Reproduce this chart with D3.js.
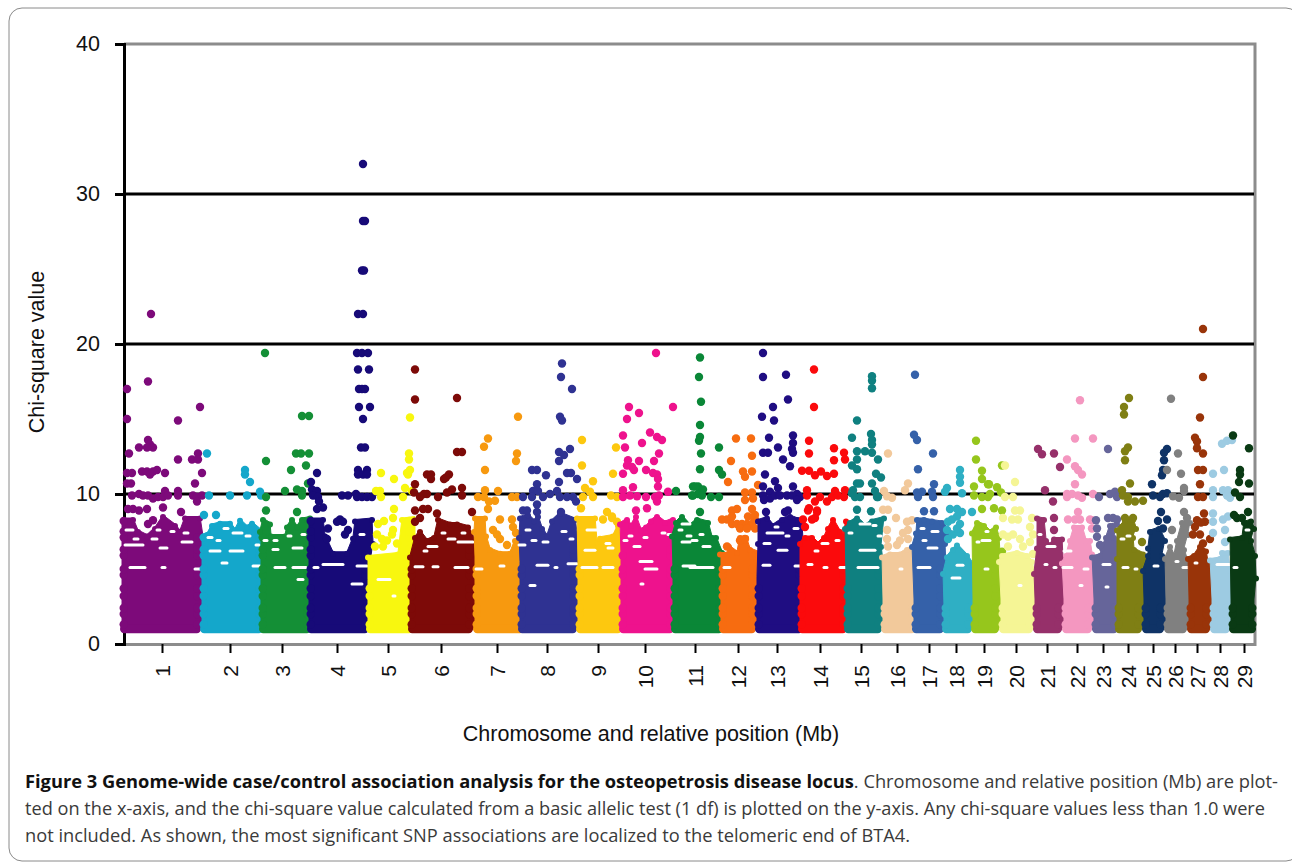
<!DOCTYPE html>
<html>
<head>
<meta charset="utf-8">
<script src="https://cdn.jsdelivr.net/npm/d3@7"></script>
<style>
  html, body { margin: 0; padding: 0; background: #fff; }
  svg { display: block; }
  .tick-txt { font-family: "Liberation Sans", Arial, sans-serif; fill: #111; }
  .caption { font-family: "Open Sans", "Noto Sans", sans-serif; font-size: 18px; fill: #3a3a3a; }
  .caption .b { font-weight: 700; fill: #111; }
</style>
</head>
<body>
<svg id="chart" width="1292" height="863"></svg>
<script>
// Manhattan plot, values. Positions are relative genome units.
const chromNames = d3.range(1, 30).map(String);
const chromColors = ['#7d0a7a','#14a7cb','#148f36','#170a78','#f8f70f','#7d0a08','#f7990f','#2f3292','#fdc80f','#ee128d',
  '#0a8737','#f76c10','#1f0d82','#fb0a0c','#0f8080','#f2c99b','#3561a9','#2fafc4','#96c61c','#f5f595',
  '#96306a','#f497c0','#66659a','#7f7f14','#0f3366','#808080','#993409','#9dcbe2','#0a3a14'];
const chromTicks = [38,106,158,213,264,317,373,423,474,521,571,614,653,696,737,773,805,832,860,892,923,953,979,1004,1029,1051,1073,1096,1120];
const yTicks = [0,10,20,30,40];
// chi levels where the SNPs stack up along the sides of each block
const bandLevels = [1.3,2.0,2.4,3.2,3.7,4.6,5.0,5.9,6.3,7.1,7.5,8.2];

// solid lower block of each chromosome: top edge [pos, chi]
const chr1Body = [[-4,8.4],[9,8.4],[14,7.6],[23,7.3],[31,7.8],[39,8.6],[51,8.0],[56,7.6],[61,8.5],[76,8.5],[77,7.2]];
const chr2Body = [[76,7.3],[83,7.4],[88,8.0],[96,8.15],[106,8.15],[111,7.7],[116,8.35],[123,7.9],[128,8.15],[138,7.6],[139,7.3]];
const chr3Body = [[135,7.4],[136,7.6],[139,8.4],[146,8.1],[147,7.3],[161,7.3],[163,7.9],[168,8.4],[173,7.9],[178,8.4],[186,8.5],[187,7.3]];
const chr4Body = [[183,8.4],[199,8.4],[201,7.3],[209,6.15],[223,6.15],[229,7.15],[231,8.3],[248,8.4],[249,6.8],[245,5.9]];
const chr5Body = [[242,4.3],[244,5.9],[274,6.1],[278,8.4],[289,8.5]];
const chr6Body = [[284,5.5],[286,5.9],[291,7.2],[296,7.6],[303,7.0],[310,7.2],[314,8.4],[326,8.1],[333,8.1],[344,7.9],[349,7.0]];
const chr7Body = [[349,5.8],[350,7.6],[351,8.5],[361,8.5],[362,7.3],[366,6.4],[376,6.15],[386,6.15],[391,7.0],[396,7.15],[400,5.6]];
const chr8Body = [[394,5.5],[395,7.2],[396,8.5],[404,8.7],[410,8.3],[414,8.6],[418,7.8],[423,7.3],[428,8.3],[436,8.8],[451,8.4],[453,6.6]];
const chr9Body = [[452,5.4],[453,8.5],[471,8.5],[473,6.9],[476,7.15],[489,7.3],[494,8.0],[497,7.2],[498,5.6]];
const chr10Body = [[495,6],[496,8.1],[503,8.4],[507,8.0],[512,8.6],[517,7.7],[522,7.9],[527,8.3],[533,8.6],[541,8.2],[549,8.4],[550,6.5]];
const chr11Body = [[547,5],[548,7.3],[552,8.2],[558,8.6],[566,8.0],[573,8.4],[584,8.2],[588,7.2],[592,7.2],[598,6.2],[599,5.5]];
const chr12Body = [[595,5.8],[596,6.1],[603,6.1],[605,6.6],[613,6.2],[616,7.2],[622,7.2],[626,6.4],[632,6.2]];
const chr13Body = [[631,4.5],[634,6.8],[634,8.3],[643,8.5],[649,8.0],[658,8.4],[666,8.6],[674,8.4],[678,8.0],[679,5]];
const chr14Body = [[674,4.5],[676,6.8],[681,7.2],[688,7.2],[694,6.8],[700,7.2],[704,7.8],[709,8.4],[716,7.6],[719,7.3],[722,8.3],[726,7.0],[723,5]];
const chr15Body = [[720,4.5],[721,7.8],[726,8.2],[733,8.5],[741,8.0],[748,8.3],[760,8.5],[757,6.6],[758,5]];
const chr16Body = [[757,3],[758,5.9],[766,6.1],[776,6.1],[783,6.4],[790,6.6],[793,5.5],[792,3]];
const chr17Body = [[788,3],[788,6.6],[792,7.5],[793,8.4],[800,8.4],[808,8.3],[818,8.2],[825,7.6],[821,6.8],[820,5]];
const chr18Body = [[818,2.5],[819,4.8],[823,5.9],[829,6.4],[833,6.7],[843,6],[849,5.4],[848,3]];
const chr19Body = [[847,3],[848,7.5],[853,8.2],[860,8],[866,7.6],[872,7.9],[875,7.2],[875,5]];
const chr20Body = [[875,3],[875,5.6],[878,6],[893,6.2],[903,6],[908,5.6],[911,4.6],[909,2]];
const chr21Body = [[909,3],[910,4.8],[913,6.5],[913,8.5],[920,8.4],[922,7],[926,6.7],[930,7.1],[938,7.1],[939,5.8],[938,3]];
const chr22Body = [[938,3],[938,5.5],[942,6],[946,7],[950,7.9],[958,7.9],[962,7],[966,7],[968,6.1],[968,3]];
const chr23Body = [[968,3],[968,5.9],[976,6],[978,6.5],[982,7.2],[986,8.0],[993,8.1],[990,7.2],[994,6.8],[996,6.1],[994,3]];
const chr24Body = [[991,3],[993,5.8],[993,7.7],[1001,8.3],[1009,8.4],[1012,7.8],[1009,7.2],[1010,6.4],[1019,6.1],[1024,5.6],[1021,4.5],[1018,3]];
const chr25Body = [[1018,3],[1019,5],[1024,6],[1024,6.5],[1026,7.6],[1035,7.8],[1041,7],[1038,6],[1041,5.5],[1040,3]];
const chr26Body = [[1040,3],[1041,5.8],[1046,6.6],[1050,6],[1053,7],[1058,8.2],[1066,8.2],[1064,7.4],[1060,6.4],[1064,5.5],[1063,3]];
const chr27Body = [[1063,3],[1064,5.8],[1070,6],[1076,6.6],[1082,6.3],[1084,5.5],[1088,5],[1086,3]];
const chr28Body = [[1086,3],[1086,5.7],[1096,5.8],[1098,6.2],[1104,6.2],[1106,5],[1106,3]];
const chr29Body = [[1105,3],[1106,7.1],[1118,7.2],[1120,8.2],[1127,8.3],[1130,7.8],[1127,7],[1131,6],[1132,4.5],[1132,3]];

// empty stretches inside the block: [pos from, pos to, chi]
const chr1Gaps = [[1,19,6.6],[36,43,6.4],[58,68,6.8],[6,21,5.1],[38,41,5.1],[71,78,5.0],[2,9,7.6],[33,36,7.6],[47,50,7.5],[60,64,7.4],[10,14,7.0],[28,33,7.0]];
const chr2Gaps = [[86,96,6.2],[106,119,6.2],[109,118,7.4],[93,96,6.9],[98,103,5.4],[129,136,5.2],[84,88,7.1],[100,104,7.7],[122,126,7.2],[132,135,6.6]];
const chr3Gaps = [[149,154,6.3],[169,178,6.4],[151,161,5.1],[169,182,5.1],[174,179,4.3],[164,167,7.2],[150,153,6.9],[178,181,7.3],[140,143,6.9]];
const chr4Gaps = [[199,219,5.3],[228,238,4.0],[233,243,5.2],[190,194,5.1],[236,240,7.3]];
const chr5Gaps = [[254,266,4.3],[269,271,3.2]];
const chr6Gaps = [[304,313,6.5],[324,331,7.0],[334,349,6.8],[291,299,5.15],[309,314,5.15],[331,344,5.1],[300,303,6.2],[318,321,7.4],[338,341,7.4]];
const chr7Gaps = [[352,358,5.0],[376,380,5.2]];
const chr8Gaps = [[413,424,5.25],[444,453,5.35],[431,433,5.1],[395,401,6.6],[419,424,6.8],[406,411,3.9],[402,406,7.6],[438,442,7.5],[408,412,6.9],[446,449,7.0]];
const chr9Gaps = [[461,471,6.25],[458,473,5.1],[479,489,5.1],[463,473,7.6],[484,489,6.4],[482,486,6.7]];
const chr10Gaps = [[516,528,5.5],[521,533,5.0],[517,519,4.0],[510,516,6.5],[505,508,7.2],[520,523,7.1],[538,541,7.4],[500,503,6.9],[544,547,7.3]];
const chr11Gaps = [[568,573,6.9],[558,566,8],[558,566,6.8],[559,571,5.2],[566,589,5.1],[579,586,6.5],[555,558,7.6],[576,579,7.3],[563,567,7.2]];
const chr12Gaps = [[600,606,5.1]];
const chr13Gaps = [[643,659,7.4],[639,646,5.25],[671,678,5.2],[654,663,6.25],[640,646,6.7],[662,665,7.2],[651,654,7.8],[670,674,7.7]];
const chr14Gaps = [[700,703,5.1],[716,723,5.1],[698,704,6.7],[684,688,5.3],[712,715,6.9],[691,694,6.2]];
const chr15Gaps = [[736,746,8.0],[736,751,6.25],[734,754,5.1],[749,752,7.9],[725,728,7.4],[754,757,7.2]];
const chr16Gaps = [[776,778,5.0]];
const chr17Gaps = [[794,806,5.1],[804,813,6.4],[808,814,7.5],[797,800,7.7],[799,802,6.9]];
const chr18Gaps = [[828,836,4.4],[833,839,5.25]];
const chr19Gaps = [[858,866,6.9],[861,864,5.0],[862,864,7.5],[853,855,6.8]];
const chr20Gaps = [[895,897,3.9]];
const chr21Gaps = [[923,931,6.5],[921,923,5.3],[930,932,5.1],[915,917,7.3]];
const chr22Gaps = [[939,948,5.1],[960,964,5],[956,958,3.9],[940,947,6.2]];
const chr23Gaps = [[979,986,5.3],[982,984,3.8]];
const chr24Gaps = [[999,1004,5.1],[1011,1013,5],[1022,1024,3.8],[1003,1006,7.2],[997,1000,7.0]];
const chr25Gaps = [[1030,1034,5.2]];
const chr26Gaps = [[1052,1054,5.5],[1059,1066,5.1]];
const chr27Gaps = [[1071,1073,5.4]];
const chr28Gaps = [[1093,1106,5.3]];
const chr29Gaps = [[1110,1113,5.1],[1122,1125,7.6]];

// separate SNPs above the block: [pos, chi]
const chr1Dots = [[27,22],[3,17],[24,17.5],[76,15.8],[3,15],[54,14.9],[24,13.6],[26,13.3],[15,13.1],[29,13.1],[23,13.1],[5,12.7],[74,12.7],[54,12.3],[68,12.3],[74,12.3],
  [3,11.4],[8,11.4],[18,11.5],[23,11.5],[26,11.3],[29,11.5],[33,11.6],[41,11.4],[78,11.4],[3,10.7],[7,10.7],[71,10.7],
  [8,9.9],[15,10],[19,9.9],[24,9.9],[29,9.7],[34,9.8],[41,10.2],[39,9.8],[44,9.9],[54,10.2],[54,9.9],[69,9.9],[73,9.8],[78,9.9],[73,9.5],
  [4,9],[9,9],[15,8.9],[23,9],[39,9.1],[57,8.8],[29,8.25],[24,8]];
const chr2Dots = [[83,12.7],[121,11.6],[121,11.3],[126,10.8],[136,10.15],[137,9.9],[85,9.9],[106,9.9],[123,9.9],[80,8.6],[92,8.6]];
const chr3Dots = [[141,19.4],[178,15.2],[185,15.2],[172,12.7],[177,12.7],[185,12.7],[142,12.2],[182,11.9],[167,11.6],[161,10.2],[173,10.3],[178,10.2],[178,9.9],[142,9.8],[184,10.7],[142,8.9],[173,8.8]];
const chr4Dots = [[239,32],[239,28.2],[241,28.2],[238,24.9],[240,24.9],[234,22],[239,22],[233,19.4],[238,19.4],[244,19.4],[234,18.3],[245,18.3],[235,17],[238,17],[241,17],[235,15.8],[246,15.8],[239,15],
  [237,13.1],[241,13.1],[234,11.6],[243,11.6],[234,11.3],[239,11.3],[243,11.3],[193,11.4],[187,10.8],[188,10.3],[193,10.2],[189,9.9],[194,9.8],[195,9.5],[218,9.9],[224,9.9],[232,10],[233,9.8],[238,9.8],[243,9.8],[248,9.8],
  [193,9],[199,9.1],[204,7.7],[216,8.3],[213,8.15],[219,8.15],[224,7.6],[221,7.3],[203,7]];
const chr5Dots = [[257,11.4],[270,11],[256,10.2],[252,10.2],[257,9.8],[270,9],[260,8.2],[254,8],[269,8.4],[269,7.6],[268,7.3],[263,6.9],[253,7.3],[258,7],[251,6.5],[259,6.5],[273,6.7],
  [281,10.4],[279,9.8],[283,11.4],[285,12.7],[285,12.3],[286,11.6],[284,11.3],[286,15.1],[288,10.2]];
const chr6Dots = [[291,18.3],[291,16.3],[333,16.4],[333,12.8],[338,12.8],[303,11.3],[307,11.3],[307,11],[320,11],[325,11.3],[322,11.1],[291,10.65],[338,10.4],[290,10.1],[296,9.8],[300,10],[303,10],[314,9.8],[323,10.1],[328,10.3],[338,9.9],[291,8.9],[299,9],[304,9],[348,8.8],[296,8.4],[291,8.15],[313,8.7]];
const chr7Dots = [[364,13.7],[360,13.15],[394,15.15],[393,12.7],[392,12.2],[361,11.6],[361,10.25],[374,10.2],[354,9.8],[360,9.8],[365,9.5],[371,9.55],[364,9],[388,9.8],[393,9.8],[376,8.3],[388,8.3],[389,7.8],[392,7.4],[369,7.6],[373,7.3],[383,6.6],[376,7]];
const chr8Dots = [[438,18.7],[437,17.8],[448,17],[436,15.15],[438,14.9],[446,13],[435,12.8],[440,12.6],[435,12.2],[408,11.6],[413,11.6],[422,11.25],[443,11.4],[447,11.4],[453,11],[435,10.8],[413,10.65],
  [409,10.2],[414,10.2],[399,9.8],[408,9.8],[419,9.8],[426,10],[433,10.2],[436,9.8],[443,9.8],[449,9.8],[452,9.5],[413,9.3],[399,8.9],[403,8.9],[413,8.8],[437,8.8]];
const chr9Dots = [[458,13.6],[492,13.1],[458,11.9],[489,11.35],[469,10.85],[461,10.4],[466,10.15],[469,9.8],[459,9.8],[487,9.9],[493,9.8],[457,9.05],[483,8.8],[488,8.5],[488,8.4],[479,8.3],[493,8.15]];
const chr10Dots = [[532,19.4],[505,15.8],[515,15.4],[549,15.8],[503,15],[499,13.9],[526,14.1],[533,13.8],[538,13.6],[501,13.1],[518,13.4],[535,12.7],[504,12.25],[503,11.9],[508,11.8],[515,12.2],[530,12.2],[499,11.35],[510,11.6],[522,11.6],[529,11.4],[533,11.3],[534,11],[534,10.5],
  [499,10.25],[509,10.45],[544,10.15],[499,9.8],[506,9.9],[513,9.85],[522,9.8],[531,9.8],[535,9.9],[533,9.5],[512,8.9],[523,9.05]];
const chr11Dots = [[576,19.1],[575,17.8],[577,16.15],[576,14.6],[576,13.8],[575,13.55],[577,12.7],[576,11.65],[595,13.1],[569,10.5],[574,10.5],[579,10.3],[569,9.9],[574,10],[578,9.9],[587,9.8],[595,9.8],[571,10.5],[552,10.2],[568,9.9],[576,8.8],[595,11.6],[598,11.3]];
const chr12Dots = [[612,13.7],[627,13.7],[628,12.55],[607,12.2],[619,11.5],[628,11.5],[621,11.15],[604,10.8],[634,10.6],[621,10.1],[628,10.1],[621,9.6],[629,9.7],
  [598,8.3],[603,8.3],[608,8.9],[613,9],[608,8.5],[608,8],[613,8],[618,8],[623,8],[628,8],[631,8.3],[628,9],[624,8.5],[631,8.6],[616,7.7],[623,7.7],[631,7.7],[603,6.5],[616,6.9],[621,7]];
const chr13Dots = [[639,19.4],[639,17.8],[662,17.95],[664,16.3],[649,15.8],[638,15.15],[650,14.9],[645,13.75],[669,13.9],[669,13.4],[668,13],[669,12.75],[654,13.1],[639,12.75],[644,12.75],[659,12.3],[666,11.85],[641,11.3],[651,10.85],
  [639,10.5],[654,10.4],[669,10.5],[639,9.9],[646,10.15],[646,9.7],[651,9.9],[656,9.9],[663,9.9],[668,9.9],[673,10],[676,9.8],[673,9.6],[640,9.6],[642,8.8],[661,8.8],[664,8.9]];
const chr14Dots = [[690,18.3],[690,15.8],[685,13.55],[685,12.7],[710,13.05],[710,12.25],[720,12.75],[721,12.3],[678,11.55],[685,11.55],[691,11.25],[697,11.5],[703,11.2],[710,11.35],
  [683,10.25],[683,9.9],[696,9.8],[691,9.5],[703,9.5],[708,9.8],[711,10.2],[714,9.9],[721,10.25],[720,9.8],[685,9.05],[693,8.9],[679,8.3],[681,7.8],[688,8.3],[691,8.4],[684,8.9],[693,8.8]];
const chr15Dots = [[748,17.85],[748,17.55],[748,17.05],[733,14.9],[728,13.75],[747,14],[748,13.6],[748,13.3],[733,12.85],[741,12.85],[748,12.75],[733,12.3],[754,12.3],[728,11.9],[733,11.65],[752,11.35],[757,11.1],[748,10.7],[733,10.7],[736,10.7],[729,10.25],[728,10.05],[731,9.8],[736,9.8],[751,10.2],[753,9.8],[754,9.8],[733,8.95],[747,8.85]];
const chr16Dots = [[764,12.7],[784,10.7],[781,10.25],[760,10.2],[763,9.85],[768,9.75],[764,8.95],[759,8.95],[772,8.4],[763,7.6],[763,7],[783,8.15],[788,8.25],[779,7.4],[776,6.9],[784,7.6],[784,7],[791,6.4],[773,6.6],[764,6.5]];
const chr17Dots = [[791,17.95],[790,13.95],[793,13.6],[809,12.7],[794,11.65],[810,10.65],[793,10.1],[798,10.15],[794,9.8],[808,10.15],[809,9.8],[800,8.85],[810,8.85]];
const chr18Dots = [[836,11.6],[836,11.15],[836,10.75],[838,10.05],[823,10.4],[821,10.15],[826,9],[833,9],[838,8.8],[848,8.8],[824,8.15],[833,8.5],[836,8],[823,7.6],[829,7.3],[836,7.4],[833,7.7],[824,7],[828,8.3]];
const chr19Dots = [[852,13.55],[852,12.3],[858,11.55],[858,11],[864,10.65],[850,10.5],[850,9.9],[858,9.8],[864,9.8],[858,9],[865,10.65],[873,10.45],[877,10.1],[866,10],[870,9.05],[878,8.9],[878,11.9],[878,6.15],[878,5]];
const chr20Dots = [[881,11.9],[891,10.8],[881,9.8],[889,9.8],[891,8.9],[896,8.9],[879,8.4],[888,8.3],[894,8.3],[908,8.4],[906,7.8],[909,7.3],[906,6.8],[879,7.3],[884,7.15],[889,7.3],[896,7],[884,6.5],[899,6.5],[909,6]];
const chr21Dots = [[914,13],[918,12.65],[930,12.7],[936,11.8],[921,10.25],[929,9.5],[930,8.4],[930,7.6]];
const chr22Dots = [[956,16.25],[951,13.7],[969,13.7],[943,12.3],[951,11.85],[954,11.6],[958,11.3],[951,10.65],[943,10],[943,9.8],[948,10],[954,9.9],[958,9.75],[969,10],[954,8.8],[944,8.3],[951,8.3],[956,8.3],[966,8.3],[968,8.25],[968,7.7]];
const chr23Dots = [[984,13],[975,9.8],[986,10],[991,10.15],[993,9.8],[972,8.25],[984,8.4],[989,8.4],[993,8.3],[973,7.7],[973,7.15],[976,6.6]];
const chr24Dots = [[1005,16.4],[1000,15.8],[1000,15.3],[1004,13.1],[1001,12.85],[1001,12.25],[1006,10.7],[998,10.25],[999,9.9],[1004,9.8],[1004,9.5],[1011,9.5],[1019,9.55],[1001,8.4],[1009,8.4],[1018,6.8]];
const chr25Dots = [[1043,13],[1040,12.75],[1040,12.25],[1039,11.6],[1038,11.25],[1028,10.65],[1029,9.9],[1036,9.8],[1039,10],[1043,10.05],[1037,8.8],[1034,8.2],[1043,8.3],[1039,7.7]];
const chr26Dots = [[1047,16.35],[1054,12.7],[1043,11.6],[1057,11.35],[1060,10.4],[1060,10.2],[1049,9.85],[1055,9.75],[1060,8.8],[1063,8.4],[1048,7.6]];
const chr27Dots = [[1079,21],[1079,17.8],[1076,15.1],[1071,13.75],[1073,13.5],[1073,13.05],[1079,12.7],[1074,11.6],[1079,11.6],[1076,10.65],[1074,9.8],[1079,9.8],[1080,8.7],[1081,8.15],[1073,8.25],[1077,8.1],[1071,7.8],[1069,7.3],[1076,7.3],[1086,7],[1079,6.7]];
const chr28Dots = [[1098,13.35],[1103,13.55],[1108,13.6],[1089,11.35],[1100,11.6],[1089,10.25],[1089,9.8],[1099,10.25],[1104,10.25],[1103,9.9],[1106,9.75],[1089,8.7],[1089,8.15],[1089,7.4],[1104,8.5],[1099,8.3],[1101,7.6],[1101,6.8]];
const chr29Dots = [[1109,13.9],[1125,13.05],[1116,11.6],[1116,11.3],[1115,10.8],[1125,10.7],[1111,10.1],[1116,9.8],[1110,8.6],[1124,8.8],[1113,8.4],[1118,8.4]];

const chromBodies = [chr1Body,chr2Body,chr3Body,chr4Body,chr5Body,chr6Body,chr7Body,chr8Body,chr9Body,chr10Body,chr11Body,chr12Body,chr13Body,chr14Body,chr15Body,chr16Body,chr17Body,chr18Body,chr19Body,chr20Body,chr21Body,chr22Body,chr23Body,chr24Body,chr25Body,chr26Body,chr27Body,chr28Body,chr29Body];
const chromGaps = [chr1Gaps,chr2Gaps,chr3Gaps,chr4Gaps,chr5Gaps,chr6Gaps,chr7Gaps,chr8Gaps,chr9Gaps,chr10Gaps,chr11Gaps,chr12Gaps,chr13Gaps,chr14Gaps,chr15Gaps,chr16Gaps,chr17Gaps,chr18Gaps,chr19Gaps,chr20Gaps,chr21Gaps,chr22Gaps,chr23Gaps,chr24Gaps,chr25Gaps,chr26Gaps,chr27Gaps,chr28Gaps,chr29Gaps];
const chromDots = [chr1Dots,chr2Dots,chr3Dots,chr4Dots,chr5Dots,chr6Dots,chr7Dots,chr8Dots,chr9Dots,chr10Dots,chr11Dots,chr12Dots,chr13Dots,chr14Dots,chr15Dots,chr16Dots,chr17Dots,chr18Dots,chr19Dots,chr20Dots,chr21Dots,chr22Dots,chr23Dots,chr24Dots,chr25Dots,chr26Dots,chr27Dots,chr28Dots,chr29Dots];

const svg = d3.select('#chart');
const L = 124, R = 1255, T = 44, B = 644;
const dotR = 4.2, sideInset = 2;
const x = d3.scaleLinear().domain([0, 1131]).range([L, R]);
const y = d3.scaleLinear().domain([0, 40]).range([B, T]);

// card outline
svg.append('rect').attr('x', 9).attr('y', 8).attr('width', 1290).attr('height', 853).attr('rx', 13)
  .attr('fill', 'none').attr('stroke', '#8a8a8a').attr('stroke-width', 1);

// frame
svg.append('path').attr('d', `M${L},${T}H${R}V${B + 0.5}H${L}`).attr('fill', 'none')
  .attr('stroke', '#8c8c8c').attr('stroke-width', 3);

// gridlines + left axis
const yAxis = d3.axisLeft(y).tickValues(yTicks).tickSize(9).tickPadding(15);
const gy = svg.append('g').attr('transform', `translate(${L},0)`).call(yAxis);
gy.select('.domain').attr('stroke', '#000').attr('stroke-width', 3);
gy.selectAll('.tick line').attr('stroke', '#000').attr('stroke-width', 3);
gy.selectAll('.tick text').attr('class', 'tick-txt').style('font-size', '21.5px');
svg.append('g').selectAll('line').data(yTicks.filter(d => d > 0 && d < 40)).join('line')
  .attr('x1', L).attr('x2', R - 1).attr('y1', d => y(d)).attr('y2', d => y(d))
  .attr('stroke', '#000').attr('stroke-width', 3);

// x axis
const xAxis = d3.axisBottom(x).tickValues(chromTicks).tickSize(9).tickFormat((d, i) => chromNames[i]);
const gx = svg.append('g').attr('transform', `translate(0,${B})`).call(xAxis);
gx.select('.domain').remove();
gx.selectAll('.tick line').attr('stroke', '#000').attr('stroke-width', 2);
gx.selectAll('.tick text').attr('class', 'tick-txt').style('font-size', '21px')
  .attr('transform', 'rotate(-90)').attr('text-anchor', 'end').attr('x', -21).attr('y', 0).attr('dy', '0.36em');

// chromosomes, drawn in order so later ones overlap earlier ones
// the right edge runs under the next chromosome, so no white shows between blocks
const insetX = (d, i, a) => x(d[0]) + (i === 0 ? sideInset : i === a.length - 1 ? (d[0] > 1130 ? -sideInset : sideInset) : 0);
const bodyArea = d3.area().x(insetX).y0(y(1)).y1(d => y(d[1]));
const chroms = svg.append('g').selectAll('g').data(chromNames).join('g').attr('fill', (d, i) => chromColors[i]);
chroms.append('path').attr('d', (d, i) => bodyArea(chromBodies[i]))
  .attr('stroke', (d, i) => chromColors[i]).attr('stroke-width', 1).attr('stroke-linejoin', 'round');
chroms.append('line')
  .attr('x1', (d, i) => x(chromBodies[i][0][0]) + dotR).attr('x2', (d, i) => x(chromBodies[i][chromBodies[i].length - 1][0]) - dotR)
  .attr('y1', y(1)).attr('y2', y(1))
  .attr('stroke', (d, i) => chromColors[i]).attr('stroke-width', 2 * dotR).attr('stroke-linecap', 'round');
chroms.each(function (d, i) {
  const g = d3.select(this), body = chromBodies[i];
  const first = body[0], last = body[body.length - 1];
  const sides = [];
  bandLevels.forEach(c => {
    if (c <= first[1]) sides.push({ px: x(first[0]) + dotR - 0.5, c });
    if (c <= last[1]) sides.push({ px: x(last[0]) - dotR + 0.5, c });
  });
  g.selectAll('circle.side').data(sides).join('circle').attr('class', 'side')
    .attr('cx', s => s.px).attr('cy', s => y(s.c)).attr('r', dotR);
  g.selectAll('circle.edge').data(body.slice(1, -1)).join('circle').attr('class', 'edge')
    .attr('cx', p => x(p[0])).attr('cy', p => y(p[1]) + 2).attr('r', 3);
  g.selectAll('line.gap').data(chromGaps[i]).join('line').attr('class', 'gap')
    .attr('x1', p => x(p[0])).attr('x2', p => x(p[1])).attr('y1', p => y(p[2])).attr('y2', p => y(p[2]))
    .attr('stroke', '#fff').attr('stroke-width', 3).attr('stroke-linecap', 'round');
  g.selectAll('circle.snp').data(chromDots[i]).join('circle').attr('class', 'snp')
    .attr('cx', p => x(p[0])).attr('cy', p => y(p[1])).attr('r', dotR);
});

// axis titles
svg.append('text').attr('class', 'tick-txt').attr('transform', 'translate(44,352) rotate(-90)')
  .attr('text-anchor', 'middle').style('font-size', '21.5px').text('Chi-square value');
svg.append('text').attr('class', 'tick-txt').attr('x', 651).attr('y', 741)
  .attr('text-anchor', 'middle').style('font-size', '21.5px').text('Chromosome and relative position (Mb)');

// caption
const capLines = [
  { y: 788, len: 1253, parts: [['Figure 3 Genome-wide case/control association analysis for the osteopetrosis disease locus', true], ['. Chromosome and relative position (Mb) are plot-', false]] },
  { y: 815, len: 1240, parts: [['ted on the x-axis, and the chi-square value calculated from a basic allelic test (1 df) is plotted on the y-axis. Any chi-square values less than 1.0 were', false]] },
  { y: 842, len: 885, parts: [['not included. As shown, the most significant SNP associations are localized to the telomeric end of BTA4.', false]] }
];
const cap = svg.append('g').selectAll('text').data(capLines).join('text').attr('class', 'caption')
  .attr('x', 25).attr('y', d => d.y).attr('textLength', d => d.len).attr('lengthAdjust', 'spacingAndGlyphs');
cap.selectAll('tspan').data(d => d.parts).join('tspan').attr('class', d => d[1] ? 'b' : null).text(d => d[0]);
</script>
</body>
</html>
